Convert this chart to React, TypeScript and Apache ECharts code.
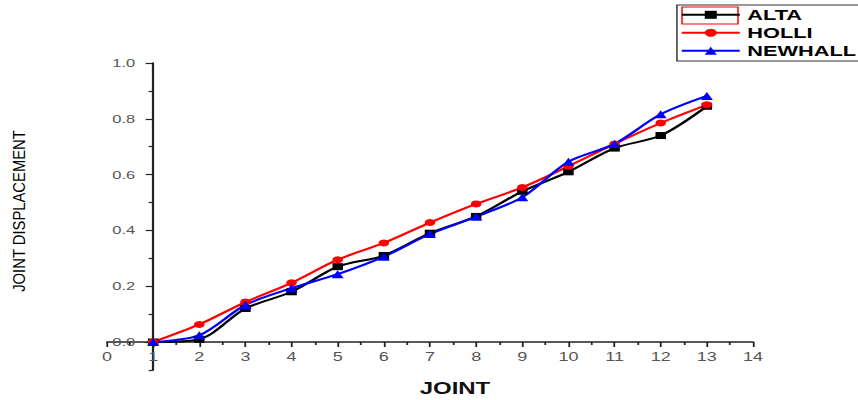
import React, { useEffect, useRef } from "react";
import * as echarts from "echarts";

const joints = [1, 2, 3, 4, 5, 6, 7, 8, 9, 10, 11, 12, 13];
const alta = [0.0, 0.01, 0.12, 0.18, 0.27, 0.31, 0.39, 0.45, 0.54, 0.61, 0.695, 0.74, 0.845];
const holli = [0.0, 0.063, 0.143, 0.212, 0.295, 0.355, 0.428, 0.495, 0.554, 0.63, 0.71, 0.785, 0.85];
const newhall = [0.0, 0.024, 0.133, 0.193, 0.243, 0.306, 0.387, 0.449, 0.519, 0.646, 0.71, 0.816, 0.882];

const FONT = "'Liberation Sans', Arial, sans-serif";
const STRETCH = 1.5;
const W = 858 / STRETCH;
const GRID_LEFT = 107 / STRETCH;
const GRID_RIGHT = W - 753 / STRETCH;
const UNIT = (W - GRID_LEFT - GRID_RIGHT) / 14;
const AXIS_COLOR = "#222";

export default function App() {
  const ref = useRef<HTMLDivElement>(null);
  useEffect(() => {
    if (!ref.current) return;
    const chart = echarts.init(ref.current, null, { renderer: "svg" });
    const mk = (vals: number[]) => joints.map((j, i) => [j, vals[i]]);
    chart.setOption({
      animation: false,
      backgroundColor: "#fff",
      textStyle: { fontFamily: FONT },
      grid: [
        { left: GRID_LEFT, right: GRID_RIGHT, top: 63, height: 279 },
        { left: GRID_LEFT, right: GRID_RIGHT, top: 342, height: 28 },
      ],
      legend: {
        left: 453.5,
        top: 7.3,
        orient: "vertical",
        padding: 0,
        itemWidth: 38.7,
        itemHeight: 10,
        itemGap: 3,
        textStyle: { fontSize: 14.5, fontWeight: "bold", color: "#000", fontFamily: FONT },
        data: ["ALTA", "HOLLI", "NEWHALL"],
      },
      xAxis: [
        {
          type: "value",
          gridIndex: 0,
          min: 0,
          max: 14,
          interval: 1,
          axisLine: { onZero: false, lineStyle: { color: AXIS_COLOR, width: 1.5 } },
          axisTick: { length: 5, lineStyle: { color: AXIS_COLOR, width: 1.2 } },
          minorTick: { show: true, splitNumber: 2, length: 3, lineStyle: { color: AXIS_COLOR, width: 1.2 } },
          splitLine: { show: false },
          minorSplitLine: { show: false },
          axisLabel: {
            fontSize: 12,
            color: "#555",
            margin: 9,
            showMinLabel: true,
            showMaxLabel: true,
            fontFamily: FONT,
          },
        },
        {
          type: "value",
          gridIndex: 1,
          min: 0,
          max: 14,
          show: false,
        },
      ],
      yAxis: [
        {
          type: "value",
          gridIndex: 0,
          position: "left",
          offset: -UNIT,
          min: 0,
          max: 1.0,
          interval: 0.2,
          axisLine: { show: true, onZero: false, lineStyle: { color: AXIS_COLOR, width: 1.5 } },
          axisTick: { show: true, length: 5, lineStyle: { color: AXIS_COLOR, width: 1.2 } },
          minorTick: { show: true, splitNumber: 2, length: 3, lineStyle: { color: AXIS_COLOR, width: 1.2 } },
          splitLine: { show: false },
          minorSplitLine: { show: false },
          axisLabel: {
            formatter: (v: number) => v.toFixed(1),
            fontSize: 11,
            color: "#555",
            margin: 12,
            fontFamily: FONT,
          },
        },
        {
          type: "value",
          gridIndex: 1,
          position: "left",
          offset: -UNIT,
          min: -0.1,
          max: 0,
          axisLine: { show: true, onZero: false, lineStyle: { color: AXIS_COLOR, width: 1.5 } },
          axisTick: { show: true, length: 3, customValues: [-0.1], lineStyle: { color: AXIS_COLOR, width: 1.2 } },
          splitLine: { show: false },
          axisLabel: { show: false },
        },
      ],
      series: [
        {
          name: "ALTA",
          type: "line",
          data: mk(alta),
          smooth: 0.3,
          symbol: "rect",
          symbolSize: 7,
          color: "#000000",
          lineStyle: { width: 2, color: "#000000" },
          itemStyle: { color: "#000000" },
          clip: false,
        },
        {
          name: "HOLLI",
          type: "line",
          data: mk(holli),
          smooth: 0.3,
          symbol: "circle",
          symbolSize: 7,
          color: "#ff0000",
          lineStyle: { width: 2, color: "#ff0000" },
          itemStyle: { color: "#ff0000" },
          clip: false,
        },
        {
          name: "NEWHALL",
          type: "line",
          data: mk(newhall),
          smooth: 0.3,
          symbol: "triangle",
          symbolSize: 8,
          color: "#0000ff",
          lineStyle: { width: 2, color: "#0000ff" },
          itemStyle: { color: "#0000ff" },
          clip: false,
        },
      ],
      graphic: [
        {
          type: "rect",
          shape: { x: 451.3, y: 5, width: 140, height: 56 },
          style: { fill: "none", stroke: "#333", lineWidth: 1 },
          silent: true,
        },
        {
          type: "rect",
          shape: { x: 454.7, y: 7, width: 37.3, height: 17 },
          style: { fill: "none", stroke: "#ff0000", lineWidth: 1 },
          silent: true,
        },
        {
          type: "text",
          x: 12.7,
          y: 211,
          rotation: Math.PI / 2,
          scaleX: 1.345,
          style: {
            text: "JOINT DISPLACEMENT",
            fontSize: 11,
            fontFamily: FONT,
            fill: "#000",
            align: "center",
            verticalAlign: "middle",
          },
        },
        {
          type: "text",
          x: 303.3,
          y: 389,
          style: {
            text: "JOINT",
            fontSize: 16,
            fontWeight: "bold",
            fontFamily: FONT,
            fill: "#111",
            align: "center",
            verticalAlign: "middle",
          },
        },
      ],
    });
    return () => chart.dispose();
  }, []);
  return (
    <div
      ref={ref}
      style={{
        position: "absolute",
        left: 0,
        top: 0,
        width: W,
        height: 400,
        transform: `scaleX(${STRETCH})`,
        transformOrigin: "0 0",
      }}
    />
  );
}
